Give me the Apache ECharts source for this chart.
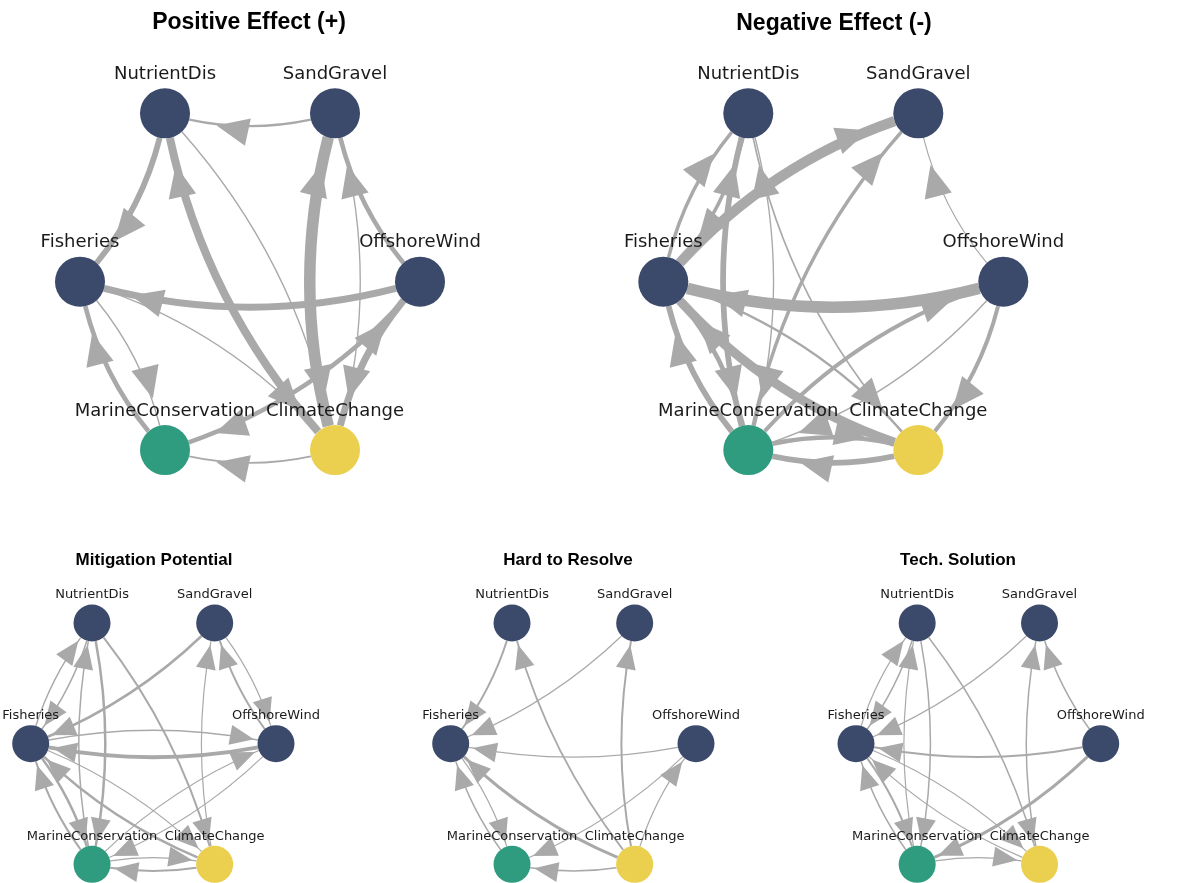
<!DOCTYPE html>
<html>
<head>
<meta charset="utf-8">
<script src="https://cdn.jsdelivr.net/npm/echarts@6/dist/echarts.min.js"></script>
<style>
  html, body { margin: 0; padding: 0; background: #ffffff; }
  #chart { width: 1177px; height: 883px; }
</style>
</head>
<body>
<div id="chart"></div>
<script>
// Node order of the circular layout (angle = 2*pi*i/n, counter-clockwise from the right)
const nodeNames = ['OffshoreWind', 'SandGravel', 'NutrientDis', 'Fisheries', 'MarineConservation', 'ClimateChange'];
const nodeColors = {
  OffshoreWind: '#3b4a6b',
  SandGravel: '#3b4a6b',
  NutrientDis: '#3b4a6b',
  Fisheries: '#3b4a6b',
  MarineConservation: '#2f9c7f',
  ClimateChange: '#ebcf4e'
};

const panelTitles = ['Positive Effect (+)', 'Negative Effect (-)', 'Mitigation Potential', 'Hard to Resolve', 'Tech. Solution'];

// Directed influences: [source, target, strength]
const positiveLinks = [
  ['SandGravel', 'NutrientDis', 2],
  ['NutrientDis', 'Fisheries', 5],
  ['OffshoreWind', 'Fisheries', 6],
  ['ClimateChange', 'NutrientDis', 7],
  ['NutrientDis', 'ClimateChange', 1.2],
  ['ClimateChange', 'SandGravel', 10],
  ['SandGravel', 'ClimateChange', 1.2],
  ['OffshoreWind', 'SandGravel', 4],
  ['ClimateChange', 'OffshoreWind', 6],
  ['Fisheries', 'MarineConservation', 1.2],
  ['MarineConservation', 'Fisheries', 4],
  ['Fisheries', 'ClimateChange', 1.2],
  ['ClimateChange', 'MarineConservation', 1.5],
  ['OffshoreWind', 'MarineConservation', 4]
];

const negativeLinks = [
  ['NutrientDis', 'Fisheries', 3],
  ['Fisheries', 'NutrientDis', 3],
  ['MarineConservation', 'NutrientDis', 5],
  ['NutrientDis', 'MarineConservation', 1.2],
  ['ClimateChange', 'NutrientDis', 1.5],
  ['Fisheries', 'SandGravel', 9],
  ['MarineConservation', 'SandGravel', 3],
  ['OffshoreWind', 'SandGravel', 1],
  ['OffshoreWind', 'Fisheries', 10],
  ['MarineConservation', 'OffshoreWind', 3.5],
  ['OffshoreWind', 'MarineConservation', 1.2],
  ['OffshoreWind', 'ClimateChange', 3.5],
  ['Fisheries', 'MarineConservation', 4],
  ['MarineConservation', 'Fisheries', 5],
  ['ClimateChange', 'Fisheries', 8],
  ['Fisheries', 'ClimateChange', 2],
  ['MarineConservation', 'ClimateChange', 4],
  ['ClimateChange', 'MarineConservation', 5]
];

const mitigationLinks = [
  ['NutrientDis', 'Fisheries', 1.5],
  ['Fisheries', 'NutrientDis', 1.5],
  ['MarineConservation', 'NutrientDis', 1.5],
  ['NutrientDis', 'MarineConservation', 2.5],
  ['NutrientDis', 'ClimateChange', 2],
  ['SandGravel', 'Fisheries', 2.5],
  ['OffshoreWind', 'SandGravel', 2],
  ['SandGravel', 'OffshoreWind', 1.2],
  ['ClimateChange', 'SandGravel', 1.2],
  ['Fisheries', 'OffshoreWind', 1.5],
  ['OffshoreWind', 'Fisheries', 4],
  ['MarineConservation', 'OffshoreWind', 1.2],
  ['OffshoreWind', 'MarineConservation', 1.2],
  ['MarineConservation', 'Fisheries', 2],
  ['Fisheries', 'MarineConservation', 2.5],
  ['ClimateChange', 'Fisheries', 2.5],
  ['Fisheries', 'ClimateChange', 1.2],
  ['MarineConservation', 'ClimateChange', 1.2],
  ['ClimateChange', 'MarineConservation', 2]
];

const hardLinks = [
  ['NutrientDis', 'Fisheries', 2],
  ['SandGravel', 'Fisheries', 1.2],
  ['OffshoreWind', 'Fisheries', 1.2],
  ['ClimateChange', 'NutrientDis', 1.8],
  ['ClimateChange', 'SandGravel', 2],
  ['ClimateChange', 'Fisheries', 3],
  ['MarineConservation', 'Fisheries', 1.5],
  ['Fisheries', 'MarineConservation', 1.2],
  ['OffshoreWind', 'MarineConservation', 1.2],
  ['ClimateChange', 'OffshoreWind', 1.2],
  ['ClimateChange', 'MarineConservation', 1.5]
];

const techLinks = [
  ['NutrientDis', 'Fisheries', 1.5],
  ['SandGravel', 'Fisheries', 1.2],
  ['Fisheries', 'NutrientDis', 1.2],
  ['MarineConservation', 'NutrientDis', 1.2],
  ['NutrientDis', 'MarineConservation', 1.5],
  ['NutrientDis', 'ClimateChange', 1.5],
  ['ClimateChange', 'SandGravel', 1.5],
  ['OffshoreWind', 'SandGravel', 1.5],
  ['OffshoreWind', 'Fisheries', 2],
  ['OffshoreWind', 'MarineConservation', 3],
  ['MarineConservation', 'Fisheries', 1.5],
  ['Fisheries', 'MarineConservation', 2],
  ['ClimateChange', 'Fisheries', 1.2],
  ['Fisheries', 'ClimateChange', 1.2],
  ['MarineConservation', 'ClimateChange', 1.2]
];

const panelLinks = [positiveLinks, negativeLinks, mitigationLinks, hardLinks, techLinks];

// Plot areas of the five panels (pixel boxes of the unit circle layout)
const panelBoxes = [
  { left: 80, top: 87.3, width: 340, height: 388.8, big: true },
  { left: 663.3, top: 87.3, width: 340, height: 388.8, big: true },
  { left: 30.7, top: 604.3, width: 245.3, height: 283, big: false },
  { left: 450.7, top: 604.3, width: 245.3, height: 283, big: false },
  { left: 856, top: 604.3, width: 244.7, height: 283, big: false }
];
const titleSpots = [
  { x: 249, y: 23, size: 23 },
  { x: 834, y: 24, size: 23 },
  { x: 154, y: 560, size: 17 },
  { x: 568, y: 560, size: 17 },
  { x: 958, y: 560, size: 17 }
];

// Arrow heads set back from the target node; transparent moveTo points widen the symbol box
const arrowBig = 'path://M0,0 M120,120 M60,88 L74,120 L46,120 Z';
const arrowSmall = 'path://M0,0 M56,56 M28,32 L38,56 L18,56 Z';
const noHead = 'path://M0,0 M1,1';

function circularPos(i) {
  const a = 2 * Math.PI * i / nodeNames.length;
  return [Math.cos(a), Math.sin(a)];
}

const grids = [], xAxes = [], yAxes = [], series = [];
panelBoxes.forEach(function (box, k) {
  grids.push({ left: box.left, top: box.top, width: box.width, height: box.height, containLabel: false });
  xAxes.push({ type: 'value', gridIndex: k, min: -1, max: 1, show: false });
  yAxes.push({ type: 'value', gridIndex: k, min: -1, max: 1, show: false });
  const widthScale = box.big ? 1.15 : 1;
  series.push({
    type: 'graph',
    coordinateSystem: 'cartesian2d',
    xAxisIndex: k,
    yAxisIndex: k,
    symbol: 'circle',
    symbolSize: box.big ? 50 : 37,
    edgeSymbol: [noHead, box.big ? arrowBig : arrowSmall],
    edgeSymbolSize: [1, box.big ? 120 : 56],
    data: nodeNames.map(function (name, i) {
      return { name: name, value: circularPos(i), itemStyle: { color: nodeColors[name] } };
    }),
    links: panelLinks[k].map(function (l) {
      return { source: l[0], target: l[1], lineStyle: { width: l[2] * widthScale } };
    }),
    lineStyle: { color: '#a9a9a9', opacity: 1, curveness: box.big ? 0.15 : 0.11 },
    label: {
      show: true,
      position: 'top',
      distance: box.big ? 5 : 3,
      fontSize: box.big ? 18 : 13,
      fontFamily: 'DejaVu Sans',
      color: '#1a1a1a'
    },
    emphasis: { disabled: true },
    silent: true,
    animation: false
  });
});

const graphics = panelTitles.map(function (t, k) {
  const s = titleSpots[k];
  return {
    type: 'text',
    x: s.x,
    y: s.y,
    style: {
      text: t,
      textAlign: 'center',
      textVerticalAlign: 'middle',
      fontFamily: 'Liberation Sans',
      fontWeight: 'bold',
      fontSize: s.size,
      fill: '#000000'
    }
  };
});

const chart = echarts.init(document.getElementById('chart'), null, { renderer: 'canvas' });
chart.setOption({
  backgroundColor: '#ffffff',
  animation: false,
  grid: grids,
  xAxis: xAxes,
  yAxis: yAxes,
  series: series,
  graphic: graphics
});
</script>
</body>
</html>
